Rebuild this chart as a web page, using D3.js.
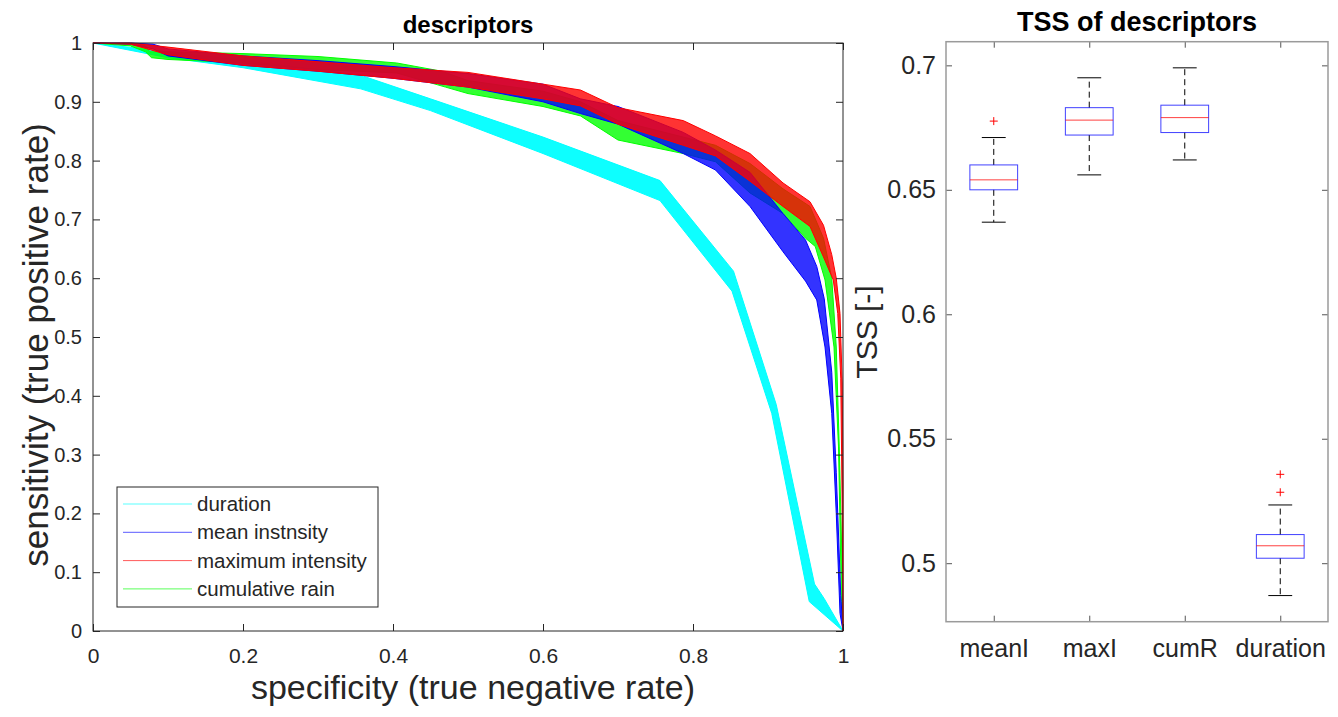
<!DOCTYPE html>
<html lang="en">
<head>
<meta charset="utf-8">
<title>descriptors</title>
<script src="https://cdn.jsdelivr.net/npm/d3@7"></script>
<style>
	body { margin: 0; background: #fff; }
	text { font-family: "Liberation Sans", Arial, sans-serif; fill: #262626; }
</style>
</head>
<body>
<script>
// ROC bands (specificity, sensitivity): outer and inner edge of each band
var rocNames = ["duration", "mean instnsity", "maximum intensity", "cumulative rain"];
var rocColors = ["#00ffff", "#0000ff", "#ff0000", "#00ff00"];

var durationOuter = [[0,1],[0.1,0.985],[0.2,0.97],[0.357,0.945],[0.45,0.905],[0.6,0.84],[0.756,0.766],[0.854,0.612],[0.911,0.385],[0.962,0.08],[0.975,0.055],[1,0]];
var durationInner = [[0,1],[0.1,0.975],[0.2,0.958],[0.357,0.922],[0.45,0.885],[0.6,0.812],[0.756,0.732],[0.852,0.578],[0.905,0.37],[0.955,0.05],[1,0]];

var meanOuter = [[0,1],[0.05,1],[0.08,0.998],[0.1,0.99],[0.2,0.978],[0.3,0.97],[0.4,0.96],[0.5,0.948],[0.6,0.93],[0.65,0.905],[0.7,0.892],[0.787,0.848],[0.83,0.818],[0.876,0.78],[0.92,0.71],[0.95,0.665],[0.965,0.62],[0.975,0.565],[0.985,0.44],[0.991,0.27],[0.997,0.06],[1,0]];
var meanInner = [[0,1],[0.05,0.998],[0.08,0.99],[0.1,0.978],[0.2,0.962],[0.3,0.952],[0.4,0.94],[0.5,0.925],[0.6,0.9],[0.65,0.88],[0.7,0.862],[0.787,0.812],[0.83,0.784],[0.876,0.722],[0.92,0.645],[0.95,0.595],[0.965,0.563],[0.976,0.483],[0.985,0.37],[0.991,0.2],[0.996,0.03],[1,0]];

var maxOuter = [[0,1],[0.05,1],[0.1,0.993],[0.2,0.978],[0.3,0.968],[0.4,0.958],[0.5,0.95],[0.6,0.93],[0.65,0.92],[0.7,0.89],[0.787,0.868],[0.83,0.842],[0.876,0.812],[0.92,0.762],[0.956,0.73],[0.974,0.69],[0.985,0.64],[0.991,0.6],[0.996,0.54],[0.999,0.42],[1,0.25],[1,0]];
var maxInner = [[0,1],[0.05,0.998],[0.1,0.98],[0.2,0.962],[0.3,0.952],[0.4,0.94],[0.5,0.925],[0.6,0.905],[0.65,0.893],[0.7,0.862],[0.787,0.826],[0.83,0.808],[0.876,0.765],[0.92,0.722],[0.956,0.688],[0.974,0.636],[0.987,0.597],[0.993,0.54],[0.997,0.43],[0.999,0.2],[1,0]];

var cumOuter = [[0,1],[0.05,0.998],[0.07,0.995],[0.076,0.985],[0.1,0.985],[0.2,0.982],[0.3,0.977],[0.405,0.966],[0.465,0.952],[0.5,0.936],[0.6,0.918],[0.65,0.9],[0.7,0.868],[0.787,0.84],[0.83,0.826],[0.876,0.795],[0.92,0.752],[0.956,0.722],[0.974,0.668],[0.985,0.6],[0.991,0.483],[0.995,0.313],[0.999,0.1],[1,0]];
var cumInner = [[0,1],[0.05,0.995],[0.07,0.985],[0.078,0.975],[0.1,0.972],[0.2,0.966],[0.3,0.955],[0.405,0.949],[0.47,0.925],[0.5,0.914],[0.6,0.892],[0.65,0.876],[0.7,0.835],[0.787,0.812],[0.83,0.798],[0.876,0.745],[0.92,0.71],[0.95,0.668],[0.963,0.654],[0.976,0.597],[0.988,0.483],[0.994,0.313],[0.998,0.05],[1,0]];

var rocTicksX = [0, 0.2, 0.4, 0.6, 0.8, 1];
var rocTicksY = [0, 0.1, 0.2, 0.3, 0.4, 0.5, 0.6, 0.7, 0.8, 0.9, 1];

// TSS box plot
var boxCategories = ["meanI", "maxI", "cumR", "duration"];
var boxLowWhisker = [0.637, 0.656, 0.662, 0.487];
var boxQ1 = [0.650, 0.672, 0.673, 0.502];
var boxMedian = [0.654, 0.678, 0.679, 0.507];
var boxQ3 = [0.660, 0.683, 0.684, 0.5115];
var boxHighWhisker = [0.671, 0.695, 0.699, 0.5234];
var boxOutliers = [[0.6776], [], [], [0.5285, 0.5357]];
var tssTicks = [0.5, 0.55, 0.6, 0.65, 0.7];

var w = 1338, h = 717;
var svg = d3.select("body").append("svg").attr("width", w).attr("height", h);

//---------------- left: ROC curves ----------------
var xScale = d3.scaleLinear().domain([0, 1]).range([93, 843]);
var yScale = d3.scaleLinear().domain([0, 1]).range([631, 43]);

var bands = [
	{ outer: durationOuter, inner: durationInner, c: 0 },
	{ outer: cumOuter, inner: cumInner, c: 3 },
	{ outer: meanOuter, inner: meanInner, c: 1 },
	{ outer: maxOuter, inner: maxInner, c: 2 }
];

var line = d3.line().x(function(d) { return xScale(d[0]); }).y(function(d) { return yScale(d[1]); });

var roc = svg.append("g");
bands.forEach(function(b) {
	var poly = b.outer.concat(b.inner.slice().reverse());
	roc.append("path")
		.attr("d", line(poly) + "Z")
		.attr("fill", rocColors[b.c])
		.attr("fill-opacity", b.c == 0 ? 0.95 : 0.8)
		.attr("stroke", "none");
	[b.outer, b.inner].forEach(function(edge) {
		roc.append("path")
			.attr("d", line(edge))
			.attr("fill", "none")
			.attr("stroke", rocColors[b.c])
			.attr("stroke-width", 1);
	});
});

// axes, ticks pointing inwards on all four sides
function styleAxis(g, col) {
	g.select(".domain").remove();
	g.selectAll(".tick line").attr("stroke", col);
	g.selectAll(".tick text").attr("fill", "#262626");
}
var fmt = d3.format("~g");
svg.append("g").attr("transform", "translate(0,631)")
	.call(d3.axisBottom(xScale).tickValues(rocTicksX).tickFormat(fmt).tickSize(-7).tickPadding(17))
	.call(styleAxis, "#262626")
	.selectAll("text").style("font-size", "21px").style("font-family", "Liberation Sans");
svg.append("g").attr("transform", "translate(0,43)")
	.call(d3.axisTop(xScale).tickValues(rocTicksX).tickFormat("").tickSize(-7))
	.call(styleAxis, "#262626");
svg.append("g").attr("transform", "translate(93,0)")
	.call(d3.axisLeft(yScale).tickValues(rocTicksY).tickFormat(fmt).tickSize(-7).tickPadding(11))
	.call(styleAxis, "#262626")
	.selectAll("text").style("font-size", "20px").style("font-family", "Liberation Sans");
svg.append("g").attr("transform", "translate(843,0)")
	.call(d3.axisRight(yScale).tickValues(rocTicksY).tickFormat("").tickSize(-7))
	.call(styleAxis, "#262626");
svg.append("rect")
	.attr("x", 93).attr("y", 43).attr("width", 750).attr("height", 588)
	.attr("fill", "none").attr("stroke", "#262626");

svg.append("text")
	.attr("x", 468).attr("y", 33)
	.attr("text-anchor", "middle")
	.style("font-size", "24px").style("font-weight", "bold").style("fill", "#000")
	.text("descriptors");

svg.append("text")
	.attr("x", 473).attr("y", 699)
	.attr("text-anchor", "middle")
	.style("font-size", "34px")
	.text("specificity (true negative rate)");

svg.append("text")
	.attr("transform", "translate(48,345) rotate(-90)")
	.attr("text-anchor", "middle")
	.style("font-size", "35px")
	.text("sensitivity (true positive rate)");

// legend
var legend = svg.append("g");
legend.append("rect")
	.attr("x", 117).attr("y", 487).attr("width", 261).attr("height", 120)
	.attr("fill", "#fff").attr("stroke", "#262626");
rocNames.forEach(function(name, i) {
	var yy = 504 + i * 28.3;
	legend.append("line")
		.attr("x1", 123).attr("x2", 192).attr("y1", yy).attr("y2", yy)
		.attr("stroke", rocColors[i]).attr("stroke-opacity", 0.65).attr("stroke-width", 1);
	legend.append("text")
		.attr("x", 197).attr("y", yy).attr("dy", "0.35em")
		.style("font-size", "20.5px")
		.text(name);
});

//---------------- right: TSS box plot ----------------
var bx = d3.scaleLinear().domain([0.5, 4.5]).range([946, 1328]);
var by = d3.scaleLinear().domain([0.4765, 0.7095]).range([621.7, 41.7]);
var boxTicksX = [1, 2, 3, 4];

svg.append("g").attr("transform", "translate(0,621.7)")
	.call(d3.axisBottom(bx).tickValues(boxTicksX).tickFormat(function(d) { return boxCategories[d - 1]; }).tickSize(-6).tickPadding(18))
	.call(styleAxis, "#555")
	.selectAll("text").style("font-size", "25px").style("font-family", "Liberation Sans");
svg.append("g").attr("transform", "translate(0,41.7)")
	.call(d3.axisTop(bx).tickValues(boxTicksX).tickFormat("").tickSize(-6))
	.call(styleAxis, "#555");
svg.append("g").attr("transform", "translate(946,0)")
	.call(d3.axisLeft(by).tickValues(tssTicks).tickFormat(fmt).tickSize(-6).tickPadding(10))
	.call(styleAxis, "#555")
	.selectAll("text").style("font-size", "25px").style("font-family", "Liberation Sans");
svg.append("g").attr("transform", "translate(1328,0)")
	.call(d3.axisRight(by).tickValues(tssTicks).tickFormat("").tickSize(-6))
	.call(styleAxis, "#555");
svg.append("rect")
	.attr("x", 946).attr("y", 41.7).attr("width", 382).attr("height", 580)
	.attr("fill", "none").attr("stroke", "#9a9a9a").attr("stroke-width", 1.5);

svg.append("text")
	.attr("x", 1137).attr("y", 31)
	.attr("text-anchor", "middle")
	.style("font-size", "27px").style("font-weight", "bold").style("fill", "#000")
	.text("TSS of descriptors");

svg.append("text")
	.attr("transform", "translate(877,332) rotate(-90)")
	.attr("text-anchor", "middle")
	.style("font-size", "30px")
	.text("TSS [-]");

var boxes = svg.append("g");
boxCategories.forEach(function(cat, i) {
	var cx = bx(i + 1);
	var half = bx(1.25) - bx(1);
	var cap = bx(1.125) - bx(1);
	// whiskers
	boxes.append("line")
		.attr("x1", cx).attr("x2", cx).attr("y1", by(boxQ3[i])).attr("y2", by(boxHighWhisker[i]))
		.attr("stroke", "#000").attr("stroke-dasharray", "6,4");
	boxes.append("line")
		.attr("x1", cx).attr("x2", cx).attr("y1", by(boxQ1[i])).attr("y2", by(boxLowWhisker[i]))
		.attr("stroke", "#000").attr("stroke-dasharray", "6,4");
	[boxHighWhisker[i], boxLowWhisker[i]].forEach(function(v) {
		boxes.append("line")
			.attr("x1", cx - cap).attr("x2", cx + cap).attr("y1", by(v)).attr("y2", by(v))
			.attr("stroke", "#000");
	});
	boxes.append("rect")
		.attr("x", cx - half).attr("y", by(boxQ3[i]))
		.attr("width", 2 * half).attr("height", by(boxQ1[i]) - by(boxQ3[i]))
		.attr("fill", "none").attr("stroke", "#0000ff").attr("stroke-opacity", 0.75);
	boxes.append("line")
		.attr("x1", cx - half).attr("x2", cx + half).attr("y1", by(boxMedian[i])).attr("y2", by(boxMedian[i]))
		.attr("stroke", "#ff0000").attr("stroke-opacity", 0.75);
	boxOutliers[i].forEach(function(v) {
		boxes.append("path")
			.attr("transform", "translate(" + cx + "," + by(v) + ")")
			.attr("d", "M-4,0H4M0,-4V4")
			.attr("stroke", "#ff0000").attr("fill", "none");
	});
});
</script>
</body>
</html>
